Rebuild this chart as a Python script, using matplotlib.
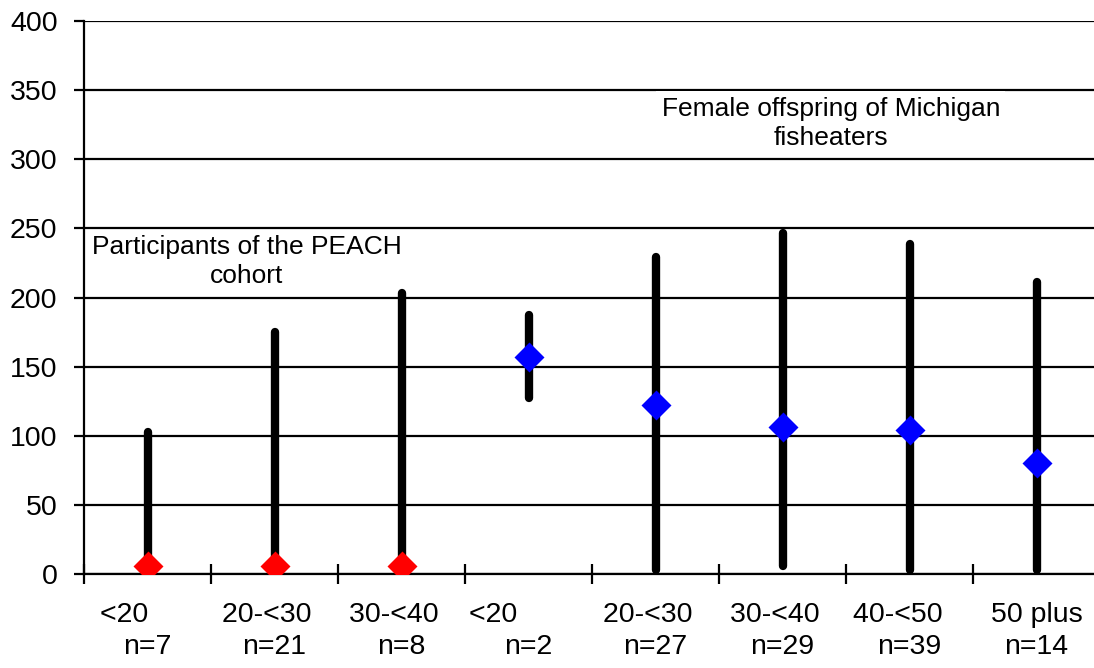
import matplotlib
matplotlib.use('Agg')
import matplotlib.pyplot as plt

plt.rcParams['font.family'] = ['Liberation Sans', 'DejaVu Sans']

# age groups (first line padded the way the source labels sit) and group sizes
groups = ['<20      ', '20-<30  ', '30-<40  ', '<20         ', '20-<30  ', '30-<40  ', '40-<50   ', '50 plus']
sizes = ['n=7', 'n=21', 'n=8', 'n=2', 'n=27', 'n=29', 'n=39', 'n=14']
medians = [6, 6, 6, 157, 122, 106, 104, 80]
low = [5, 5, 5, 127, 3, 6, 3, 3]
high = [103, 175, 203, 187, 229, 247, 239, 211]
colors = ['#ff0000'] * 3 + ['#0000ff'] * 5

fig = plt.figure(figsize=(10.94, 6.68), dpi=100)
ax = fig.add_axes([84 / 1094, 94 / 668, 1016 / 1094, 553 / 668])

x = list(range(len(groups)))
for i in x:
    ax.plot([i, i], [low[i], high[i]], color='black', lw=6, solid_capstyle='round', zorder=3)
    ax.plot(i, medians[i], marker='D', ms=14.8, color=colors[i], mec='none', zorder=4)

ax.set_xlim(-0.5, 7.5)
ax.set_ylim(0, 400)
ax.set_yticks(range(0, 401, 50))
ax.yaxis.grid(True, color='black', lw=1.6)
ax.set_axisbelow(True)

ax.set_xticks([i - 0.5 for i in x] + [7.5])
ax.set_xticklabels([])
ax.set_xticks(x, minor=True)
ax.set_xticklabels([g + '\n' + s for g, s in zip(groups, sizes)], minor=True, linespacing=1.3)
ax.tick_params(axis='x', which='major', direction='inout', length=14, width=1.6)
ax.tick_params(axis='x', which='minor', length=0, pad=20, labelsize=20.5)
ax.tick_params(axis='y', direction='out', length=7, width=1.6, pad=12, labelsize=20.5)

for side in ['top', 'right']:
    ax.spines[side].set_visible(False)
for side in ['left', 'bottom']:
    ax.spines[side].set_linewidth(1.6)

ax.text(0.78, 226, 'Participants of the PEACH\ncohort', ha='center', va='center', fontsize=19,
        linespacing=1.28, zorder=2,
        bbox=dict(boxstyle='square,pad=0.12', fc='white', ec='none'))
ax.text(5.38, 326, 'Female offspring of Michigan\nfisheaters', ha='center', va='center', fontsize=19,
        linespacing=1.28, zorder=2,
        bbox=dict(boxstyle='square,pad=0.2', fc='white', ec='none'))

fig.savefig('out.png', dpi=100)
